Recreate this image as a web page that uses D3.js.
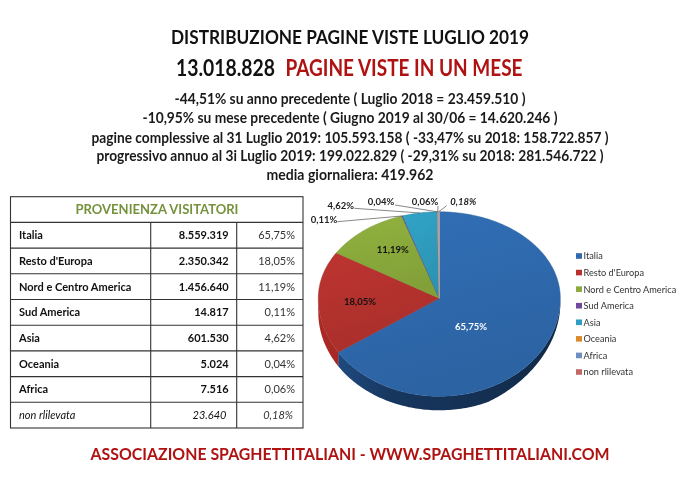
<!DOCTYPE html>
<html><head><meta charset="utf-8">
<script src="https://cdn.jsdelivr.net/npm/d3@7"></script>
<style>
html,body{margin:0;padding:0;background:#fff}
svg{display:block;filter:blur(0.35px)}
text{font-family:Lato,"Open Sans",sans-serif}
</style></head><body>
<svg id="c" width="700" height="495"></svg>
<script>
const categories=["Italia","Resto d'Europa","Nord e Centro America","Sud America","Asia","Oceania","Africa","non rlilevata"];
const pageViews=[8559319,2350342,1456640,14817,601530,5024,7516,23640];
const percents=[65.75,18.05,11.19,0.11,4.62,0.04,0.06,0.18];
const topColors=["#2f6aae","#b5322e","#8bab3c","#6f4a9c","#2f9dbf","#dd8a2e","#6d8fc0","#c06a68"];
const wallColors=["#17375f","#7c1e1b","#5d7526","#46306a","#1e6c85","#94591a","#46618a","#7d4544"];
const legendColors=["#2f6aae","#b5322e","#8bab3c","#6f4a9c","#2f9dbf","#dd8a2e","#6d8fc0","#c06a68"];
const headerLines=[
 "-44,51% su anno precedente ( Luglio 2018 = 23.459.510 )",
 "-10,95% su mese precedente ( Giugno 2019 al 30/06 = 14.620.246 )",
 "pagine complessive al 31 Luglio 2019: 105.593.158 ( -33,47% su 2018: 158.722.857 )",
 "progressivo annuo al 3i Luglio 2019: 199.022.829 ( -29,31% su 2018: 281.546.722 )",
 "media giornaliera: 419.962"];
const titleText="DISTRIBUZIONE PAGINE VISTE LUGLIO 2019";
const totalText="13.018.828";
const totalTail="PAGINE VISTE IN UN MESE";
const tableTitle="PROVENIENZA VISITATORI";
const footerText="ASSOCIAZIONE SPAGHETTITALIANI - WWW.SPAGHETTITALIANI.COM";

const svg=d3.select("#c");
const loc=d3.formatLocale({decimal:",",thousands:".",grouping:[3],currency:["",""]});
const fmtN=loc.format(",d"), fmtP=v=>loc.format(".2f")(v)+"%";
const defs=svg.append("defs");

// --- header
function line(str,y,size,weight,fill,len,x=350,anchor="middle"){
  return svg.append("text").attr("x",x).attr("y",y).attr("text-anchor",anchor)
    .attr("font-size",size).attr("font-weight",weight).attr("fill",fill)
    .attr("textLength",len).attr("lengthAdjust","spacingAndGlyphs").text(str);
}
line(titleText,44,18.5,700,"#111",358);
line(totalText,76,22,700,"#111",99,176,"start");
line(totalTail,76,22,700,"#b01212",237,285.5,"start");
const hy=[104,123,142.5,161,179.5], hw=[351,415,517,507,167];
headerLines.forEach((s,i)=>line(s,hy[i],15,700,"#1a1a1a",hw[i]));
line(footerText,460,17.5,700,"#b01212",519);

// --- table
const rowY=d3.scaleLinear().domain([0,9]).range([196.7,428]);
const colX=[10.5,150.7,236.7,303];
const tg=svg.append("g");
tg.append("rect").attr("x",colX[0]).attr("y",rowY(0)).attr("width",colX[3]-colX[0]).attr("height",rowY(9)-rowY(0))
  .attr("fill","none").attr("stroke","#333").attr("stroke-width",1.1);
tg.selectAll("line.h").data(d3.range(1,9)).join("line").attr("class","h")
  .attr("x1",colX[0]).attr("x2",colX[3]).attr("y1",d=>rowY(d)).attr("y2",d=>rowY(d))
  .attr("stroke","#333").attr("stroke-width",1.1);
tg.selectAll("line.v").data([1,2]).join("line").attr("class","v")
  .attr("x1",d=>colX[d]).attr("x2",d=>colX[d]).attr("y1",rowY(1)).attr("y2",rowY(9))
  .attr("stroke","#333").attr("stroke-width",1.1);
tg.append("text").attr("x",157).attr("y",214).attr("text-anchor","middle").attr("font-size",14).attr("font-weight",700)
  .attr("fill","#76923c").attr("textLength",163).attr("lengthAdjust","spacingAndGlyphs").text(tableTitle);
const rows=tg.selectAll("g.r").data(categories).join("g").attr("class","r")
  .attr("transform",(d,i)=>`translate(0,${rowY(i+1)+16.8})`);
const last=categories.length-1;
rows.append("text").attr("x",19).attr("font-size",11).attr("fill","#111")
  .attr("font-weight",(d,i)=>i===last?400:700).attr("font-style",(d,i)=>i===last?"italic":"normal").text(d=>d);
rows.append("text").attr("x",(d,i)=>i===last?226.5:228.7).attr("text-anchor","end").attr("font-size",11).attr("fill","#111")
  .attr("font-weight",(d,i)=>i===last?400:700).attr("font-style",(d,i)=>i===last?"italic":"normal").text((d,i)=>fmtN(pageViews[i]));
rows.append("text").attr("x",(d,i)=>i===last?293:295).attr("text-anchor","end").attr("font-size",11).attr("fill","#333")
  .attr("font-style",(d,i)=>i===last?"italic":"normal").text((d,i)=>fmtP(percents[i]));

// --- pie
const pie=d3.pie().sort(null).value(d=>d)(pageViews);
const cx=439.3,cy=298.3,rx=121,ryTop=86.5,ryBot=98,depth=14;
const project=a=>{const c=Math.cos(a);return [cx+rx*Math.sin(a),cy-c*(c>0?ryTop:ryBot)];};
const path=d3.line();
const samples=(a0,a1)=>{const n=Math.max(2,Math.ceil((a1-a0)/0.02));return d3.range(n+1).map(i=>a0+(a1-a0)*i/n);};

pie.forEach((s,i)=>{
  const g=defs.append("linearGradient").attr("id","top"+i).attr("x1",0).attr("y1",0).attr("x2",0.3).attr("y2",1);
  const c=d3.color(topColors[i]);
  g.append("stop").attr("offset",0).attr("stop-color",c.brighter(0.12));
  g.append("stop").attr("offset",1).attr("stop-color",c.darker(0.18));
  const w=defs.append("linearGradient").attr("id","wall"+i).attr("gradientUnits","userSpaceOnUse")
    .attr("x1",cx-rx).attr("x2",cx+rx).attr("y1",0).attr("y2",0);
  const wc=d3.color(wallColors[i]);
  w.append("stop").attr("offset",0.05).attr("stop-color",wc.brighter(0.9));
  w.append("stop").attr("offset",0.3).attr("stop-color",wc);
  w.append("stop").attr("offset",1).attr("stop-color",wc.darker(0.8));
});
const pg=svg.append("g");
pg.selectAll("path.wall").data(pie.filter(s=>s.startAngle<1.5*Math.PI)).join("path").attr("class","wall")
  .attr("d",s=>{
    const a0=Math.max(s.startAngle,Math.PI/2),a1=Math.min(s.endAngle,1.5*Math.PI);
    const up=samples(a0,a1).map(a=>project(a));
    const down=up.slice().reverse().map(p=>[p[0],p[1]+depth*(0.35+0.65*Math.min(1,(cx+rx-p[0])/(rx*0.6)))]);
    return path(up.concat(down))+"Z";
  })
  .attr("fill",s=>`url(#wall${s.index})`);
pg.selectAll("path.top").data(pie).join("path").attr("class","top")
  .attr("d",s=>path([[cx,cy]].concat(samples(s.startAngle,s.endAngle).map(a=>project(a))))+"Z")
  .attr("fill",s=>`url(#top${s.index})`)
  .attr("stroke",s=>s.index===7?"#a9a4a8":d3.color(topColors[s.index]).darker(0.35)).attr("stroke-width",s=>s.index===7?1.2:0.5);

// --- data labels
const inside=[[471,330],[360,305],[392.7,252.5]];
const outside={3:[324,222.5],4:[340.7,208.5],5:[381,204.5],6:[425,204.5],7:[463.3,204.5]};
const leaderFrom={3:[337.3,221.7],4:[354.3,208.3],5:[395,205],6:[438,206],7:[446.7,205.7]};
[0,1,2].forEach(i=>svg.append("text").attr("x",inside[i][0]).attr("y",inside[i][1]).attr("text-anchor","middle")
  .attr("font-size",9.5).attr("font-weight",700).attr("fill",i===0?"#fff":"#111").text(fmtP(percents[i])));
Object.keys(outside).forEach(k=>{
  const i=+k,s=pie[i],mid=(s.startAngle+s.endAngle)/2,e=project(mid);
  svg.append("path").attr("d",path([leaderFrom[i],e])).attr("fill","none").attr("stroke","#555").attr("stroke-width",0.7);
  svg.append("text").attr("x",outside[i][0]).attr("y",outside[i][1]).attr("text-anchor","middle")
    .attr("font-size",9.5).attr("font-weight",700).attr("font-style",i===7?"italic":"normal").attr("fill","#222").text(fmtP(percents[i]));
});

// --- legend
const legY=d3.scaleLinear().domain([0,7]).range([256,372]);
const lg=svg.selectAll("g.l").data(categories).join("g").attr("class","l").attr("transform",(d,i)=>`translate(576,${legY(i)})`);
lg.append("rect").attr("x",0).attr("y",-2.8).attr("width",6).attr("height",5.6).attr("fill",(d,i)=>legendColors[i]);
lg.append("text").attr("x",7.5).attr("y",3.4).attr("font-size",9.2).attr("fill","#333").text(d=>d);
</script>
</body></html>
